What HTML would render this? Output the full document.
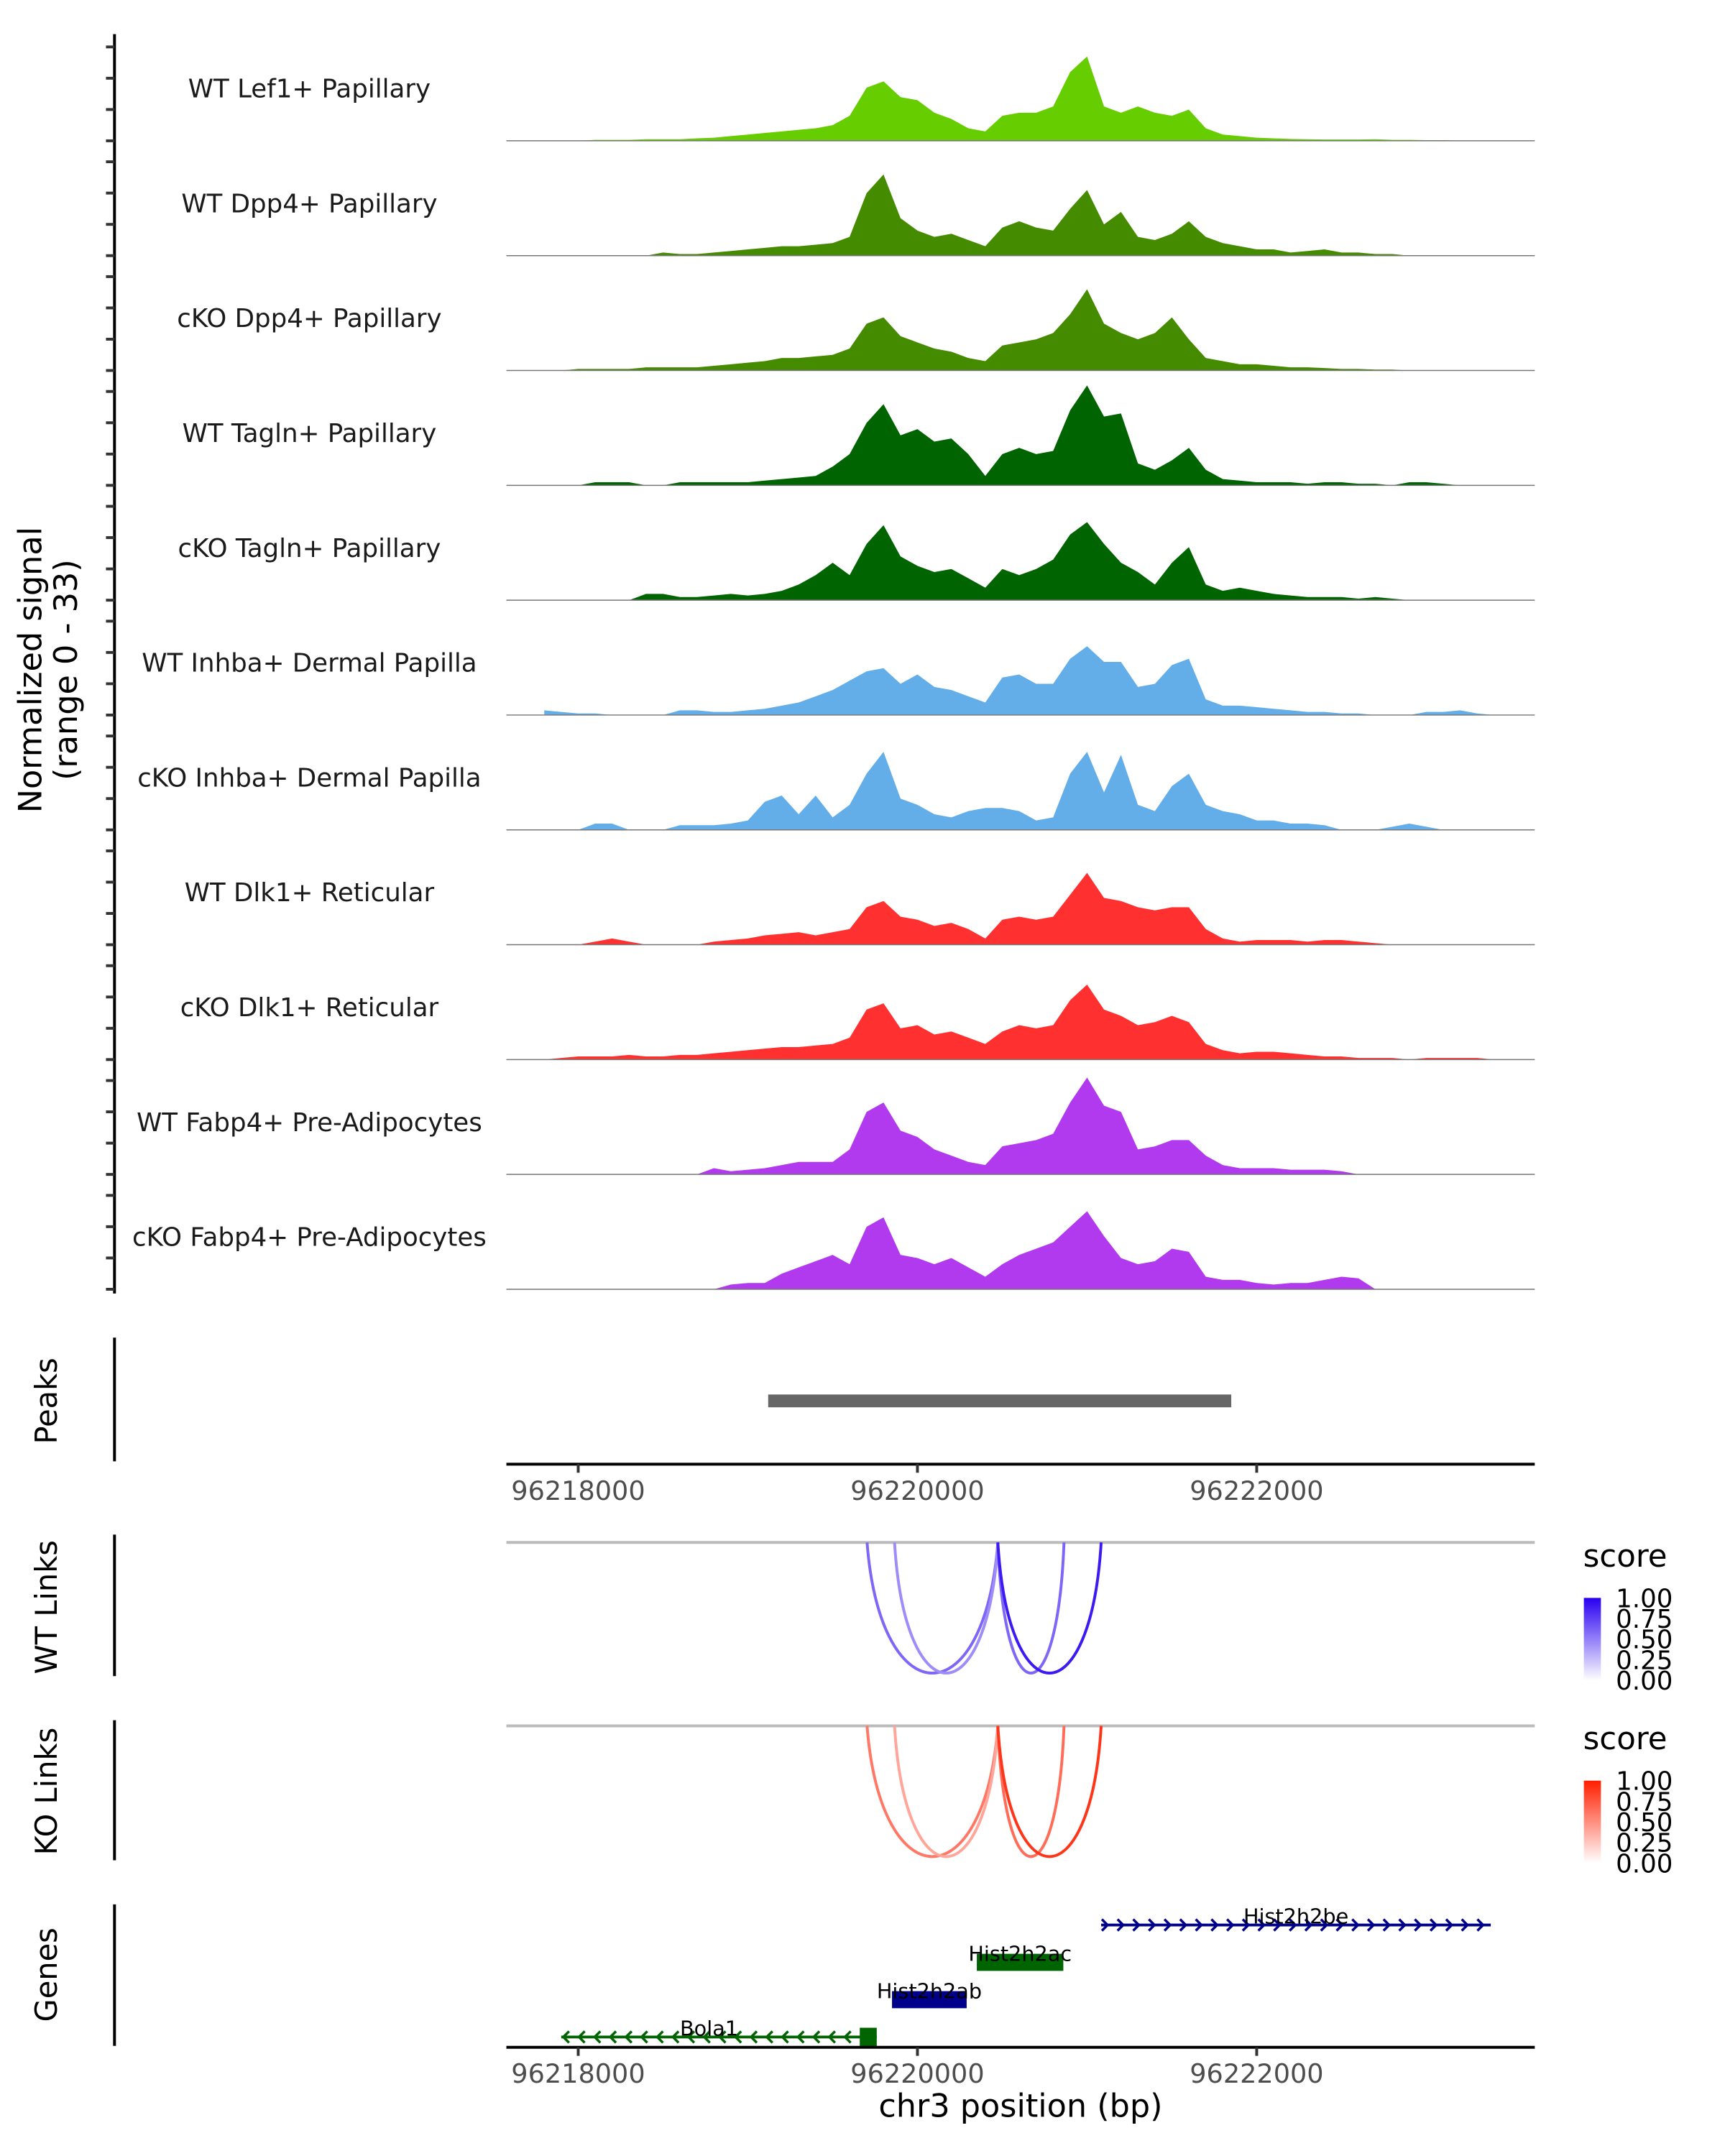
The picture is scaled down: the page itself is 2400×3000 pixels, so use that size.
<!DOCTYPE html>
<html><head><meta charset="utf-8"><style>
html,body{margin:0;padding:0;background:#fff}
svg{display:block;font-family:"DejaVu Sans","Liberation Sans",sans-serif}
</style></head><body>
<svg id="chart" width="2400" height="3000" viewBox="0 0 2400 3000" xmlns="http://www.w3.org/2000/svg">
<rect width="2400" height="3000" fill="#fff"/>
<g transform="scale(0.9895)">
<g id="tracks"></g>
<g id="peaks"></g>
<g id="links"></g>
<g id="genes"></g>
</g>
</svg>
<script>
const trackNames = ["WT Lef1+ Papillary","WT Dpp4+ Papillary","cKO Dpp4+ Papillary","WT Tagln+ Papillary","cKO Tagln+ Papillary","WT Inhba+ Dermal Papilla","cKO Inhba+ Dermal Papilla","WT Dlk1+ Reticular","cKO Dlk1+ Reticular","WT Fabp4+ Pre-Adipocytes","cKO Fabp4+ Pre-Adipocytes"];
const trackColors = ["#66cd00","#458b00","#458b00","#006400","#006400","#63ade9","#63ade9","#ff3030","#ff3030","#b23aee","#b23aee"];
const binStart = 96217800;
const binSize = 100;
const sigLef1WT = [0,0,0,0.3,0.3,0.3,0.5,0.5,0.5,0.8,1, 1.5,2,2.5,3,3.5,4,5,8, 17,19,14,13, 9,7,4,3, 8,9,9,11, 22,27,11,9, 11,9,8,10,4, 2,1.5,1,0.8,0.6,0.5,0.4,0.4,0.4,0.5,0.3,0.3,0.2,0.2,0,0,0];
const sigDpp4WT = [0,0,0,0,0,0,0,1,0.5,0.5,1, 1.5,2,2.5,3,3,3.5,4,6, 20,26,12,8, 6,7,5,3, 9,11,9,8, 15,21,10,14, 6,5,7,11,6, 4,3,2,2,1,1.5,2,1,1,0.5,0.5,0,0,0,0,0,0];
const sigDpp4KO = [0,0,0.5,0.5,0.5,0.5,1,1,1,1,1.5, 2,2.5,3,4,4,4.5,5,7, 15,17,11,9, 7,6,4,3, 8,9,10,12, 18,26,15,12, 10,12,17,10,4, 3,2,2,1.5,1,1,0.8,0.5,0.5,0.3,0.3,0,0,0,0,0,0];
const sigTaglnWT = [0,0,0,1,1,1,0,0,1,1,1, 1,1,1.5,2,2.5,3,6,10, 20,26,16,18, 14,15,10,3, 10,12,10,11, 24,32,22,23, 7,5,8,12,5, 2,1.5,1,1,1,0.5,1,1,0.5,0.5,0,1,1,0.5,0,0,0];
const sigTaglnKO = [0,0,0,0,0,0,2,2,1,1,1.5, 2,1.5,2,3,5,8,12,8, 18,24,14,11, 9,10,7,4, 10,8,10,13, 21,25,18,12, 9,5,12,17,5, 3,4,3,2,1.5,1,1,1,0.5,1,0.5,0,0,0,0,0,0];
const sigInhbaWT = [1.5,1,0.5,0.5,0,0,0,0,1.5,1.5,1, 1,1.5,2,3,4,6,8,11, 14,15,10,13, 9,8,6,4, 12,13,10,10, 18,22,17,17, 9,10,16,18,5, 3,3,2.5,2,1.5,1,1,0.5,0.5,0,0,0,1,1,1.5,0.5,0];
const sigInhbaKO = [0,0,0,2,2,0,0,0,1.5,1.5,1.5, 2,3,9,11,5,11,4,8, 18,25,10,8, 5,4,6,7, 7,6,3,4, 18,25,12,24, 8,6,14,18,8, 6,5,3,3,2,2,1.5,0,0,0,1,2,1,0,0,0,0];
const sigDlk1WT = [0,0,0,1,2,1,0,0,0,0,1, 1.5,2,3,3.5,4,3,4,5, 12,14,9,8, 6,7,5,2, 8,9,8,9, 16,23,15,14, 12,11,12,12,5, 2,1,1.5,1.5,1.5,1,1.5,1.5,1,0.5,0,0,0,0,0,0,0];
const sigDlk1KO = [0,0.5,1,1,1,1.5,1,1,1.5,1.5,2, 2.5,3,3.5,4,4,4.5,5,7, 16,18,10,11, 8,9,7,5, 9,11,10,11, 19,24,16,14, 11,12,14,12,5, 3,2,2.5,2.5,2,1.5,1,1,0.5,0.5,0.5,0,0.5,0.5,0.5,0.5,0];
const sigFabp4WT = [0,0,0,0,0,0,0,0,0,0,2, 1,1.5,2,3,4,4,4,8, 20,23,14,12, 8,6,4,3, 9,10,11,13, 23,31,22,20, 8,9,11,11,6, 3,2,2,2,1.5,1.5,1.5,1,0,0,0,0,0,0,0,0,0];
const sigFabp4KO = [0,0,0,0,0,0,0,0,0,0,0, 1.5,2,2,5,7,9,11,8, 20,23,11,10, 8,10,7,4, 8,11,13,15, 20,25,17,10, 8,9,13,12,4, 3,3,2,1.5,2,2,3,4,3.5,0,0,0,0,0,0,0,0];
const signals = [sigLef1WT,sigDpp4WT,sigDpp4KO,sigTaglnWT,sigTaglnKO,sigInhbaWT,sigInhbaKO,sigDlk1WT,sigDlk1KO,sigFabp4WT,sigFabp4KO];
const xTicks = [96218000,96220000,96222000];
const xTickLabels = ["96218000","96220000","96222000"];
const peakStarts = [96219120];
const peakEnds = [96221850];
const wtLinkStarts = [96219703,96219865,96220474,96220474];
const wtLinkEnds = [96220474,96220474,96220864,96221083];
const wtLinkScores = [0.6,0.45,0.6,0.9];
const koLinkStarts = [96219703,96219865,96220474,96220474];
const koLinkEnds = [96220474,96220474,96220864,96221083];
const koLinkScores = [0.6,0.4,0.65,0.9];
const geneNames = ["Hist2h2be","Hist2h2ac","Hist2h2ab","Bola1"];
const geneStarts = [96221083,96220350,96219850,96217900];
const geneEnds = [96223380,96220860,96220290,96219760];
const geneStrands = ["+","+","+","-"];
const geneColors = ["#00008b","#006400","#00008b","#006400"];
const geneRows = [0,1,2,3];
const geneIsBlock = [false,true,true,false];
const legendValues = ["1.00","0.75","0.50","0.25","0.00"];

const NS = "http://www.w3.org/2000/svg";
const X0 = 712, X1 = 2158;
function xs(bp){ return 813 + (bp-96218000)*0.2385; }
function mk(tag, attrs, parent){ const e=document.createElementNS(NS,tag); for(const k in attrs) e.setAttribute(k,attrs[k]); parent.appendChild(e); return e; }
function txt(s, attrs, parent){ const e=mk("text",attrs,parent); e.textContent=s; return e; }
const unit = 145/33;
const tracksG = document.getElementById("tracks");

let ax = mk("line",{x1:161,y1:48,x2:161,y2:1819,stroke:"#000","stroke-width":4},tracksG);


signals.forEach((sig,t)=>{
  const base = 198 + t*161.5;
  for(let k=0;k<4;k++){
    const tk = mk("line",{x1:149,x2:161,y1:base-k*44,y2:base-k*44,stroke:"#333","stroke-width":4},tracksG);
    
    
  }
  let d = "M"+xs(binStart)+","+base;
  sig.forEach((v,i)=>{ d += " L"+xs(binStart+i*binSize).toFixed(1)+","+(base-v*unit).toFixed(1); });
  d += " L"+xs(binStart+(sig.length-1)*binSize)+","+base+" Z";
  const area = mk("path",{d:d,fill:trackColors[t]},tracksG);
  
  
  const bl = mk("line",{x1:X0,x2:X1,y1:base,y2:base,stroke:"#777","stroke-width":1.5},tracksG);
  
  
  const lab = txt(trackNames[t],{x:435,y:base-61,"text-anchor":"middle","font-size":36,fill:"#1a1a1a"},tracksG);
  
  
});
const yt = txt("",{transform:"translate(82,942) rotate(-90)","text-anchor":"middle","font-size":45,fill:"#000"},tracksG);


const ts1 = mk("tspan",{x:0,dy:-24},yt); ts1.textContent="Normalized signal";
const ts2 = mk("tspan",{x:0,dy:50},yt); ts2.textContent="(range 0 - 33)";

function panelTitle(g,s,cy){
  const e = txt(s,{transform:"translate(80,"+cy+") rotate(-90)","text-anchor":"middle","font-size":42,fill:"#000"},g);
  
  
}
function vaxis(g,y1,y2){
  const e = mk("line",{x1:161,x2:161,y1:y1,y2:y2,stroke:"#000","stroke-width":4},g);
  
  
}
function xaxis(g,y){
  const l = mk("line",{x1:X0,x2:X1,y1:y,y2:y,stroke:"#000","stroke-width":4},g);
  
  
  xTicks.forEach((b,i)=>{
    const t = mk("line",{x1:xs(b),x2:xs(b),y1:y,y2:y+12,stroke:"#333","stroke-width":4},g);
    
    
    const tl = txt(xTickLabels[i],{x:xs(b),y:y+50,"text-anchor":"middle","font-size":37,fill:"#4d4d4d"},g);
    
    
  });
}
const pg = document.getElementById("peaks");
panelTitle(pg,"Peaks",1970);
vaxis(pg,1881,2055);
peakStarts.forEach((s,i)=>{
  const r = mk("rect",{x:xs(s),y:1961,width:xs(peakEnds[i])-xs(s),height:18,fill:"#666"},pg);
  
  
});
xaxis(pg,2059);

const lg = document.getElementById("links");
function linkPanel(title,cy,top,ax1,ax2,starts,ends,scores,rgb,legY){
  panelTitle(lg,title,cy);
  vaxis(lg,ax1,ax2);
  const bl = mk("line",{x1:X0,x2:X1,y1:top,y2:top,stroke:"#bbb","stroke-width":4},lg);
  
  
  starts.forEach((s,i)=>{
    const a=xs(s), b=xs(ends[i]);
    const depth = 245;
    const sc = scores[i];
    const col = "rgb("+rgb.map(c=>Math.round(255-(255-c)*sc)).join(",")+")";
    const p = mk("path",{d:"M"+a+","+top+" C"+(a+(b-a)*0.1)+","+(top+depth)+" "+(b-(b-a)*0.1)+","+(top+depth)+" "+b+","+top,fill:"none",stroke:col,"stroke-width":4},lg);
    
    
  });
  const lt = txt("score",{x:2226,y:legY,"font-size":44,fill:"#000"},lg);
  
  
  const gid = "grad"+title.replace(/\s/g,"");
  const defs = mk("defs",{},lg);
  const gr = mk("linearGradient",{id:gid,x1:0,y1:0,x2:0,y2:1},defs);
  mk("stop",{offset:0,"stop-color":"rgb("+rgb.join(",")+")"},gr);
  mk("stop",{offset:1,"stop-color":"#fff"},gr);
  const by = legY+44;
  const bar = mk("rect",{x:2227,y:by,width:24,height:116,fill:"url(#"+gid+")"},lg);
  
  
  legendValues.forEach((v,i)=>{
    const yy = by + i*29;
    const tl = txt(v,{x:2272,y:yy+13,"font-size":36,fill:"#000"},lg);
    
    
  });
}
linkPanel("WT Links",2260,2169,2158,2357,wtLinkStarts,wtLinkEnds,wtLinkScores,[40,0,240],2203);
linkPanel("KO Links",2519,2427,2419,2616,koLinkStarts,koLinkEnds,koLinkScores,[255,30,0],2460);

const gg = document.getElementById("genes");
panelTitle(gg,"Genes",2777);
vaxis(gg,2678,2877);
geneNames.forEach((n,i)=>{
  const y = 2707 + geneRows[i]*52.5;
  const a = xs(geneStarts[i]), b = xs(geneEnds[i]);
  const col = geneColors[i];
  if(geneIsBlock[i]){
    const r = mk("rect",{x:a,y:y-12,width:b-a,height:24,fill:col},gg);
    
    
  } else {
    const l = mk("line",{x1:a,x2:b,y1:y,y2:y,stroke:col,"stroke-width":4},gg);
    
    
    for(let x=a+6;x<b;x+=22){
      const dir = geneStrands[i]==="+"?1:-1;
      const ch = mk("polyline",{points:(x-5*dir)+","+(y-8)+" "+(x+3*dir)+","+y+" "+(x-5*dir)+","+(y+8),fill:"none",stroke:col,"stroke-width":3.5},gg);
      
      
    }
    if(geneStrands[i]==="-"){
      const ex = mk("rect",{x:xs(96219660),y:y-13,width:xs(geneEnds[i])-xs(96219660),height:26,fill:col},gg);
      
      
    }
  }
  const cx = geneStrands[i]==="-" ? 997 : (a+b)/2;
  const gl = txt(n,{x:cx,y:y-2,"text-anchor":"middle","font-size":29,fill:"#000"},gg);
  
  
});
xaxis(gg,2879);
const xt = txt("chr3 position (bp)",{x:1435,y:2977,"text-anchor":"middle","font-size":45,fill:"#000"},gg);


</script>
</body></html>
